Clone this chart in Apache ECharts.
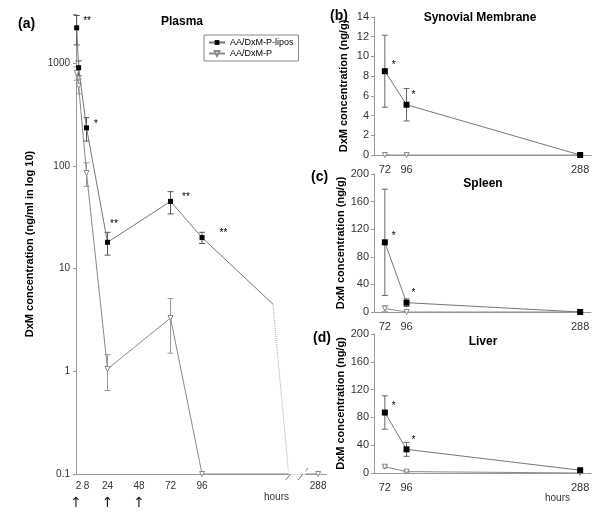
<!DOCTYPE html>
<html><head><meta charset="utf-8">
<script src="https://cdn.jsdelivr.net/npm/echarts@6/dist/echarts.min.js"></script>
<style>html,body{margin:0;padding:0;background:#fff}#c{width:600px;height:515px}</style>
</head><body><div id="c"></div><script>
// ---------- data ----------
const seriesNames = ['AA/DxM-P-lipos', 'AA/DxM-P'];
// Plasma (hours, ng/ml)
const plasmaTimes = [0.5, 2, 8, 24, 72, 96];
const plasmaLipos = [2200, 900, 234, 18, 45, 20];
const plasmaLiposErr = [700, 150, 60, 4.5, 11, 2.5];
const plasmaLiposSig = ['**', '', '*', '**', '**', '**'];
const plasmaLiposTail = [[96, 20], [150, 4.5]];
const plasmaLiposDotted = [[150, 4.5], [162, 0.1]];
const plasmaPTimes = [0.5, 2, 8, 24, 72, 96, 288];
const plasmaP = [800, 600, 85, 1.05, 3.3, 0.1, 0.1];
const plasmaPErr = [120, 100, 22, 0.4, 1.8, 0, 0];
const plasmaTickLabels = [2, 8, 24, 48, 72, 96, 288];
const plasmaBreak = { start: 162, end: 278, gap: 12.4 };
const doseTimes = [0, 24, 48];
// Tissues (hours, ng/g)
const tissueTimes = [72, 96, 288];
const synLipos = [8.5, 5.1, 0], synLiposErr = [3.65, 1.65, 0], synSig = ['*', '*', ''];
const synP = [0, 0, 0], synPErr = [0, 0, 0];
const splLipos = [101, 13.5, 0], splLiposErr = [77, 5.5, 0], splSig = ['*', '*', ''];
const splP = [5, 0, 0], splPErr = [4, 0, 0];
const livLipos = [87, 34, 4], livLiposErr = [24, 10, 0], livSig = ['*', '*', ''];
const livP = [9, 2, 0], livPErr = [2, 1, 0];

// ---------- helpers ----------
const FONT = 'Liberation Sans, Arial, sans-serif';
const LIPO_LINE = '#777', P_LINE = '#8a8a8a';
function zip(xs, ys) { return xs.map((x, i) => [x, ys[i]]); }
function errData(xs, ys, es) { return xs.map((x, i) => [x, ys[i], es[i]]); }
function errSeries(data, xi, color, floor) {
  return {
    type: 'custom', xAxisIndex: xi, yAxisIndex: xi, silent: true, z: 1,
    data: data.filter(d => d[2] > 0),
    encode: { x: 0, y: 1 },
    renderItem(params, api) {
      const x = api.value(0), y = api.value(1), e = api.value(2);
      const top = api.coord([x, y + e]);
      const bot = api.coord([x, Math.max(y - e, floor)]);
      const w = 3;
      const st = { stroke: color, lineWidth: 1 };
      return { type: 'group', children: [
        { type: 'line', shape: { x1: top[0], y1: top[1], x2: bot[0], y2: bot[1] }, style: st },
        { type: 'line', shape: { x1: top[0] - w, y1: top[1], x2: top[0] + w, y2: top[1] }, style: st },
        { type: 'line', shape: { x1: bot[0] - w, y1: bot[1], x2: bot[0] + w, y2: bot[1] }, style: st }
      ]};
    }
  };
}
function liposSeries(data, sig, xi, offsets, size) {
  return {
    name: seriesNames[0], type: 'line', xAxisIndex: xi, yAxisIndex: xi, z: 3,
    symbol: 'rect', symbolSize: size,
    itemStyle: { color: '#000' }, lineStyle: { color: LIPO_LINE, width: 1 },
    data: data.map((d, i) => ({
      value: d,
      label: sig[i] ? { show: true, formatter: sig[i], position: 'right', distance: 4,
        offset: offsets[i] || [0, -4], color: '#000', fontSize: 10, fontFamily: FONT } : { show: false }
    })),
    emphasis: { disabled: true }
  };
}
function pSeries(data, xi, size) {
  return {
    name: seriesNames[1], type: 'line', xAxisIndex: xi, yAxisIndex: xi, z: 2,
    symbol: 'triangle', symbolRotate: 180, symbolSize: size,
    itemStyle: { color: '#fff', borderColor: '#888', borderWidth: 1 },
    lineStyle: { color: P_LINE, width: 1 },
    data: data, emphasis: { disabled: true }
  };
}
const axisLineGrey = { lineStyle: { color: '#999', width: 1 } };

// ---------- grids & axes ----------
const grids = [
  { left: 76, top: 14, width: 250, height: 460 },
  { left: 374, top: 17, width: 217, height: 138 },
  { left: 374, top: 174, width: 217, height: 138 },
  { left: 374, top: 334, width: 217, height: 139 }
];
const xAxes = [
  { gridIndex: 0, type: 'value', min: 0, max: 294,
    breaks: [plasmaBreak],
    breakArea: { show: true, itemStyle: { color: '#fff', borderColor: '#fff', borderWidth: 0, opacity: 1 }, zigzagAmplitude: 0, expandOnClick: false },
    axisLine: axisLineGrey, axisTick: { show: false }, splitLine: { show: false },
    axisLabel: { customValues: plasmaTickLabels, fontSize: 10, color: '#333', fontFamily: FONT, margin: 7 } },
  { gridIndex: 0, type: 'value', min: 0, max: 294, position: 'bottom',
    breaks: [plasmaBreak],
    breakArea: { show: false },
    axisLine: { show: false }, axisTick: { show: false }, splitLine: { show: false },
    axisLabel: { customValues: doseTimes, formatter: () => '\u2191', fontSize: 14, color: '#222', fontFamily: 'DejaVu Sans', margin: 22 } }
];
for (let g = 1; g <= 3; g++) {
  xAxes.push({ gridIndex: g, type: 'value', min: 60, max: 300,
    axisLine: axisLineGrey, axisTick: { show: false }, splitLine: { show: false },
    axisLabel: { customValues: tissueTimes, fontSize: 11, color: '#333', fontFamily: FONT, margin: 9 } });
}
const yName = { fontWeight: 'bold', fontSize: 11, color: '#000', fontFamily: FONT };
const yAxes = [
  { gridIndex: 0, type: 'log', logBase: 10, min: 0.1, max: 3000,
    name: 'DxM concentration (ng/ml in log 10)', nameLocation: 'middle', nameGap: 41, nameTextStyle: yName,
    axisLine: { show: true, lineStyle: { color: '#999' } }, axisTick: { show: true, length: 3, lineStyle: { color: '#999' } },
    splitLine: { show: false },
    axisLabel: { fontSize: 10, color: '#333', fontFamily: FONT, margin: 6,
      formatter: v => { const l = Math.log10(v); if (Math.abs(l - Math.round(l)) > 1e-6) return ''; const r = Math.pow(10, Math.round(l)); return r < 1 ? r.toFixed(1) : String(r); } } },
  { gridIndex: 1, type: 'value', min: 0, max: 14, interval: 2 },
  { gridIndex: 2, type: 'value', min: 0, max: 200, interval: 40 },
  { gridIndex: 3, type: 'value', min: 0, max: 200, interval: 40 }
];
for (let g = 1; g <= 3; g++) {
  Object.assign(yAxes[g], {
    name: 'DxM concentration (ng/g)', nameLocation: 'middle', nameGap: 25, nameTextStyle: yName,
    axisLine: { show: true, lineStyle: { color: '#999' } }, axisTick: { show: true, length: 3, lineStyle: { color: '#999' } },
    splitLine: { show: false },
    axisLabel: { fontSize: 11, color: '#333', fontFamily: FONT, margin: 5 }
  });
}
function tSeries(s, xi, yi) { s.xAxisIndex = xi; s.yAxisIndex = yi; return s; }

// ---------- series ----------
const series = [
  errSeries(errData(plasmaTimes, plasmaLipos, plasmaLiposErr), 0, '#555', 0.1),
  errSeries(errData(plasmaPTimes, plasmaP, plasmaPErr), 0, '#999', 0.1),
  pSeries(zip(plasmaPTimes, plasmaP), 0, 5),
  liposSeries(zip(plasmaTimes, plasmaLipos), plasmaLiposSig, 0,
    [[0, -7], null, [1, -4], [-4, -18], [5, -4], [11, -4]], 5),
  { name: seriesNames[0], type: 'line', xAxisIndex: 0, yAxisIndex: 0, symbol: 'none', z: 2,
    lineStyle: { color: LIPO_LINE, width: 1 }, data: plasmaLiposTail, emphasis: { disabled: true } },
  { name: seriesNames[0], type: 'line', xAxisIndex: 0, yAxisIndex: 0, symbol: 'none', z: 2,
    lineStyle: { color: '#aaa', width: 1, type: 'dotted' }, data: plasmaLiposDotted, emphasis: { disabled: true } }
];
const tissues = [
  [synLipos, synLiposErr, synSig, synP, synPErr],
  [splLipos, splLiposErr, splSig, splP, splPErr],
  [livLipos, livLiposErr, livSig, livP, livPErr]
];
tissues.forEach((t, k) => {
  const xi = k + 2, yi = k + 1;
  series.push(tSeries(errSeries(errData(tissueTimes, t[0], t[1]), 0, '#666', 0), xi, yi));
  series.push(tSeries(errSeries(errData(tissueTimes, t[3], t[4]), 0, '#999', 0), xi, yi));
  series.push(tSeries(pSeries(zip(tissueTimes, t[3]), 0, 5), xi, yi));
  series.push(tSeries(liposSeries(zip(tissueTimes, t[0]), t[2], 0, [[0, -6], [-2, -9]], 6), xi, yi));
});

// ---------- titles ----------
const tFont = { fontFamily: FONT, color: '#000', fontWeight: 'bold' };
const titles = [
  { text: 'Plasma', left: 182, top: 16, textAlign: 'center', padding: 0, textStyle: Object.assign({ fontSize: 12 }, tFont) },
  { text: '(a)', left: 18, top: 17, padding: 0, textStyle: Object.assign({ fontSize: 14 }, tFont) },
  { text: 'Synovial Membrane', left: 480, top: 12, textAlign: 'center', padding: 0, textStyle: Object.assign({ fontSize: 12 }, tFont) },
  { text: '(b)', left: 330, top: 9, padding: 0, textStyle: Object.assign({ fontSize: 14 }, tFont) },
  { text: 'Spleen', left: 483, top: 178, textAlign: 'center', padding: 0, textStyle: Object.assign({ fontSize: 12 }, tFont) },
  { text: '(c)', left: 311, top: 170, padding: 0, textStyle: Object.assign({ fontSize: 14 }, tFont) },
  { text: 'Liver', left: 483, top: 336, textAlign: 'center', padding: 0, textStyle: Object.assign({ fontSize: 12 }, tFont) },
  { text: '(d)', left: 313, top: 331, padding: 0, textStyle: Object.assign({ fontSize: 14 }, tFont) },
  { text: 'hours', left: 264, top: 492, padding: 0, textStyle: { fontFamily: FONT, fontSize: 10, color: '#333', fontWeight: 'normal' } },
  { text: 'hours', left: 545, top: 493, padding: 0, textStyle: { fontFamily: FONT, fontSize: 10, color: '#333', fontWeight: 'normal' } }
];

const chart = echarts.init(document.getElementById('c'), null, { renderer: 'canvas' });
chart.setOption({
  animation: false,
  backgroundColor: '#fff',
  title: titles,
  legend: {
    data: seriesNames, orient: 'vertical', left: 204, top: 35, padding: [3, 5, 3, 4], itemGap: 2, z: 20, zlevel: 1,
    itemWidth: 16, itemHeight: 6, borderColor: '#888', borderWidth: 1, selectedMode: false,
    backgroundColor: '#fff',
    textStyle: { fontSize: 9, color: '#000', fontFamily: FONT, padding: [0, 0, 0, 0] }
  },
  grid: grids, xAxis: xAxes, yAxis: yAxes, series: series
});

// break marks ("//") on the plasma time axis, placed from the break's own values
const bs = chart.convertToPixel({ xAxisIndex: 0, yAxisIndex: 0 }, [plasmaBreak.start, 0.1]);
const be = chart.convertToPixel({ xAxisIndex: 0, yAxisIndex: 0 }, [plasmaBreak.end, 0.1]);
const slash = (x, y) => ({ type: 'line', z: 30, shape: { x1: x - 5, y1: y + 6, x2: x + 5, y2: y - 6 }, style: { stroke: '#777', lineWidth: 1 } });
chart.setOption({ graphic: [slash(bs[0] + 2, bs[1]), slash(be[0] - 2, be[1])] });
</script></body></html>
